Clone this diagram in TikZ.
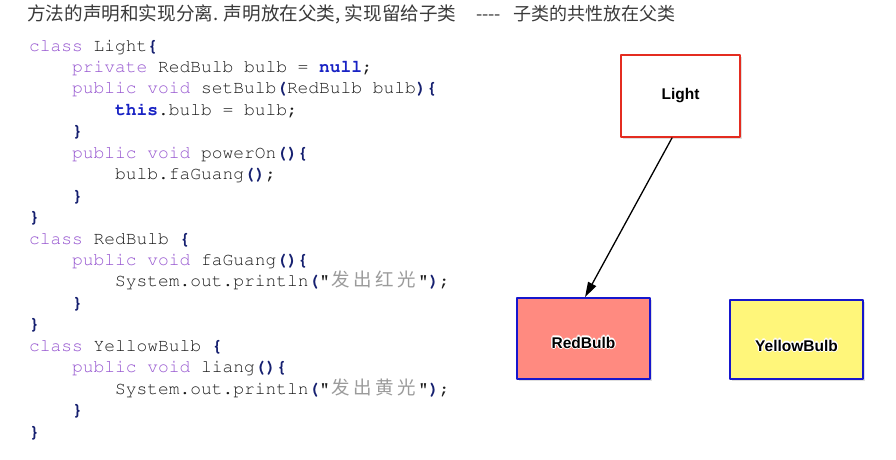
\documentclass[tikz,border=0pt]{standalone}
\usepackage[T1,TU]{fontenc}
\usepackage{fontspec}
\usepackage{tikz}
\usetikzlibrary{arrows.meta,shadows}
\setmainfont{Liberation Sans}
\newcommand\codefont{\fontencoding{T1}\fontfamily{pcr}\selectfont}
\newfontfamily\cjkfont{Noto Sans CJK SC}

\definecolor{kwpurple}{RGB}{150,85,208}
\definecolor{brnavy}{RGB}{22,32,112}
\definecolor{litblue}{RGB}{24,34,196}
\definecolor{codetext}{RGB}{28,28,28}
\definecolor{strgray}{RGB}{155,155,155}
\definecolor{titlegray}{RGB}{58,58,58}
\definecolor{boxred}{RGB}{228,44,32}
\definecolor{boxblue}{RGB}{22,22,205}
\definecolor{redfill}{RGB}{255,138,128}
\definecolor{yellowfill}{RGB}{255,246,122}

% code colouring
\newcommand\kw[1]{\textcolor{kwpurple}{#1}}
\newcommand\br[1]{\textcolor{brnavy}{\bfseries #1}}
\newcommand\lit[1]{\textcolor{litblue}{\bfseries #1}}
\newcommand\zc[1]{\makebox[22pt]{\cjkfont\fontsize{18.5}{20}\selectfont\color{strgray}#1}}
\newcommand\codeline[3]{% level, line number, text
  \node[codeln] at (29+43*#1,51+21.45*#2) {#3};}
% white glow round a box label
\newcommand\halo[1]{%
  \foreach \dx/\dy in {1.2/0,-1.2/0,0/1.2,0/-1.2,.85/.85,-.85/.85,.85/-.85,-.85/-.85}%
    {\rlap{\hspace{\dx pt}\raisebox{\dy pt}{\color{white}#1}}}%
  #1}

\begin{document}
\begin{tikzpicture}[x=1pt,y=-1pt,line cap=round,line join=round,
  >={Triangle[length=15pt,width=9pt]},
  codeln/.style={anchor=base west,inner sep=0pt,text=codetext,
    font=\codefont\fontsize{17.9}{20}\selectfont},
  title/.style={anchor=base west,inner sep=0pt,text=titlegray,
    font=\cjkfont\fontsize{18}{20}\selectfont},
  classbox/.style={draw=boxblue,line width=1.8pt,line cap=butt,
    drop shadow={opacity=0.25,shadow xshift=1.5pt,shadow yshift=-1.5pt}},
  lbl/.style={inner sep=0pt,font=\bfseries\fontsize{15.5}{18}\selectfont}]
\useasboundingbox[fill=white] (0,0) rectangle (896,459);

% heading
\node[title,font=\cjkfont\fontsize{18.6}{20}\selectfont] (t1) at (27,20) {方法的声明和实现分离. 声明放在父类, 实现留给子类};
\node[title] (t2) at (476,20) {----};
\node[title] (t3) at (513,20) {子类的共性放在父类};

% code
\codeline{0}{0}{\kw{class} Light\br{\{}}
\codeline{1}{1}{\kw{private} RedBulb bulb = \lit{null};}
\codeline{1}{2}{\kw{public} \kw{void} setBulb\br{(}RedBulb bulb\br{)\{}}
\codeline{2}{3}{\lit{this}.bulb = bulb;}
\codeline{1}{4}{\br{\}}}
\codeline{1}{5}{\kw{public} \kw{void} powerOn\br{()\{}}
\codeline{2}{6}{bulb.faGuang\br{()};}
\codeline{1}{7}{\br{\}}}
\codeline{0}{8}{\br{\}}}
\codeline{0}{9}{\kw{class} RedBulb \br{\{}}
\codeline{1}{10}{\kw{public} \kw{void} faGuang\br{()\{}}
\codeline{2}{11}{System.out.println\br{(}"\zc{发}\zc{出}\zc{红}\zc{光}"\br{)};}
\codeline{1}{12}{\br{\}}}
\codeline{0}{13}{\br{\}}}
\codeline{0}{14}{\kw{class} YellowBulb \br{\{}}
\codeline{1}{15}{\kw{public} \kw{void} liang\br{()\{}}
\codeline{2}{16}{System.out.println\br{(}"\zc{发}\zc{出}\zc{黄}\zc{光}"\br{)};}
\codeline{1}{17}{\br{\}}}
\codeline{0}{18}{\br{\}}}

% class boxes
\node[classbox,draw=boxred,fill=white,minimum width=119pt,minimum height=82pt] (light) at (680.5,96) {};
\node[classbox,fill=redfill,minimum width=133pt,minimum height=81pt] (redbulb) at (583.5,338.5) {};
\node[classbox,fill=yellowfill,minimum width=133pt,minimum height=79pt] (yellowbulb) at (796.5,339.5) {};
\node[lbl] (lightlbl) at (light.center) {\halo{Light}};
\node[lbl] (redlbl) at ([yshift=-4pt]redbulb.center) {\halo{RedBulb}};
\node[lbl] (yellowlbl) at ([yshift=-6pt]yellowbulb.center) {\halo{YellowBulb}};

\draw[->,line width=1.3pt] ([xshift=-8.5pt]light.south) -- ([xshift=1.5pt]redbulb.north);
\end{tikzpicture}
\end{document}
